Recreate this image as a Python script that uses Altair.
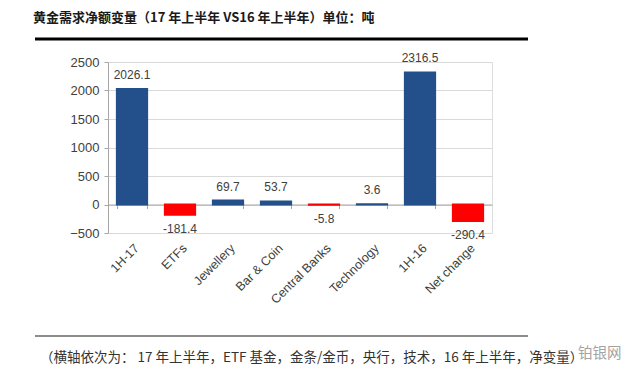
import altair as alt
import pandas as pd

categories = ["1H-17", "ETFs", "Jewellery", "Bar & Coin", "Central Banks", "Technology", "1H-16", "Net change"]
values = [2026.1, -181.4, 69.7, 53.7, -5.8, 3.6, 2316.5, -290.4]
labels = ["2026.1", "-181.4", "69.7", "53.7", "-5.8", "3.6", "2316.5", "-290.4"]
y_ticks = [-500, 0, 500, 1000, 1500, 2000, 2500]

title_text = "黄金需求净额变量（17 年上半年 VS16 年上半年）单位：吨"
caption_text = "（横轴依次为：  17 年上半年，ETF 基金，金条/金币，央行，技术，16 年上半年，净变量）"
watermark_text = "铂银网"

BLUE = "#23508A"
RED = "#FF0000"
LATIN = "Liberation Sans"
CJK = "Noto Sans CJK SC"

df = pd.DataFrame({"cat": categories, "v": values, "lab": labels})

xscale = alt.Scale(paddingInner=0.37, paddingOuter=0.185)
yscale = alt.Scale(domain=[-500, 2500], nice=False, zero=False)

xaxis = alt.Axis(labelAngle=-45, offset=-28.5, domain=True, domainColor="#A6A6A6",
                 ticks=True, tickColor="#A6A6A6", tickSize=4, tickBand="extent",
                 labelPadding=33, labelFont=LATIN, labelFontSize=12.5,
                 labelColor="#404040", grid=False, labelOverlap=False)
yaxis = alt.Axis(values=y_ticks, tickCount=7, format="d", grid=True, gridColor="#D9D9D9",
                 domainColor="#A6A6A6", tickColor="#A6A6A6", tickSize=4, labelPadding=5,
                 labelFont=LATIN, labelFontSize=13, labelColor="#404040",
                 labelOverlap=False)

X = alt.X("cat:N", sort=categories, scale=xscale, title=None, axis=xaxis)
Y = alt.Y("v:Q", scale=yscale, title=None, axis=yaxis)

base = alt.Chart(df)

bars = base.mark_bar(strokeWidth=2).encode(
    x=X,
    y=Y,
    y2=alt.Y2("zero:Q"),
    color=alt.condition(alt.datum.v < 0, alt.value(RED), alt.value(BLUE)),
    stroke=alt.condition(alt.datum.v < 0, alt.value(RED), alt.value(BLUE)),
).transform_calculate(zero="0")

pos_labels = base.transform_filter(alt.datum.v >= 0).mark_text(
    baseline="bottom", dy=-7, font=LATIN, fontSize=12, color="#404040"
).encode(x=X, y=Y, text="lab:N")

neg_labels = base.transform_filter(alt.datum.v < 0).mark_text(
    baseline="top", dy=9, font=LATIN, fontSize=12, color="#404040"
).encode(x=X, y=Y, text="lab:N")

one = pd.DataFrame({"k": [0]})

title = alt.Chart(one).mark_text(
    text=title_text, align="left", baseline="middle", font=CJK, fontSize=13, fontWeight="bold", color="#1a1a1a"
).encode(x=alt.value(-75), y=alt.value(-44))

top_rule = alt.Chart(one).mark_rule(color="#000000", strokeWidth=3).encode(
    x=alt.value(-73), x2=alt.value(420), y=alt.value(-23)
)

bottom_rule = alt.Chart(one).mark_rule(color="#8C8C8C", strokeWidth=2).encode(
    x=alt.value(-73), x2=alt.value(420), y=alt.value(274)
)

caption = alt.Chart(one).mark_text(
    text=caption_text, align="left", baseline="middle", font=CJK, fontSize=13.5, color="#333333"
).encode(x=alt.value(-68), y=alt.value(296))

watermark = alt.Chart(one).mark_text(
    text=watermark_text, align="left", baseline="middle", font=CJK, fontSize=14.5, color="#9A9A9A", opacity=0.9
).encode(x=alt.value(470), y=alt.value(292))

chart = alt.layer(
    bars, pos_labels, neg_labels, title, top_rule, bottom_rule, caption, watermark
).properties(
    width=384, height=171,
    autosize=alt.AutoSizeParams(type="none"),
    padding={"left": 100, "top": 54, "right": 140, "bottom": 145},
).configure_view(stroke=None).configure_axis(labelOverlap=False).configure(background="white")

chart.save("out.html", embed_options={"renderer": "svg", "actions": False})
